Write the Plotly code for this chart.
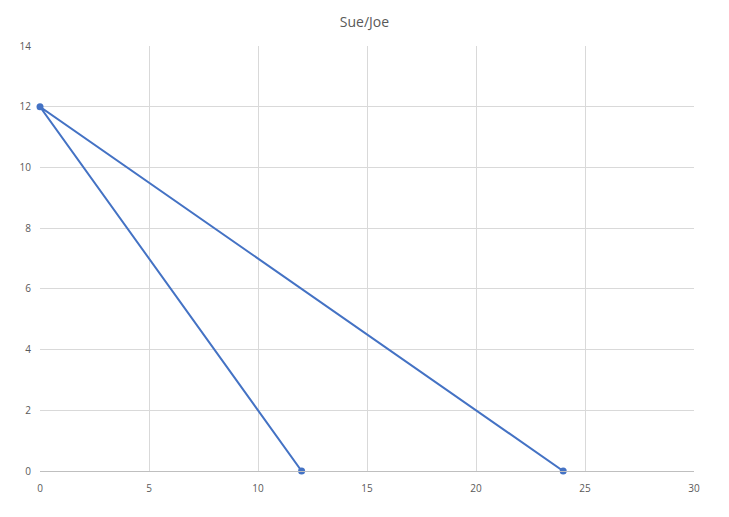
import plotly.graph_objects as go

# Sue/Joe data points
x_vals = [12, 0, 24]
y_vals = [0, 12, 0]

x_ticks = [0, 5, 10, 15, 20, 25, 30]
y_ticks = [0, 2, 4, 6, 8, 10, 12, 14]

fig = go.Figure()

fig.add_trace(
    go.Scatter(
        x=x_vals,
        y=y_vals,
        mode="lines+markers",
        line=dict(color="#4472C4", width=2),
        marker=dict(color="#4472C4", size=7, line=dict(width=0)),
        showlegend=False,
        cliponaxis=False,
    )
)

# page body adds 8px offset, so figure is sized a bit smaller
fig.update_layout(
    width=713,
    height=501,
    paper_bgcolor="white",
    plot_bgcolor="white",
    margin=dict(l=30, r=27, t=38, b=38),
    title=dict(
        text="Sue/Joe",
        x=0.5,
        xanchor="center",
        y=0.972,
        yanchor="middle",
        font=dict(family="Open Sans, Calibri, sans-serif", size=14, color="#595959"),
    ),
    font=dict(family="Open Sans, Calibri, sans-serif", size=10, color="#595959"),
)

fig.update_xaxes(
    range=[0, 30],
    tickvals=x_ticks,
    showgrid=True,
    gridcolor="#d9d9d9",
    gridwidth=1,
    zeroline=False,
    showline=True,
    linecolor="#bfbfbf",
    ticks="",
    ticklabelstandoff=8,
    tickfont=dict(size=10, color="#595959"),
)

fig.update_yaxes(
    range=[0, 14],
    tickvals=y_ticks,
    showgrid=True,
    gridcolor="#d9d9d9",
    gridwidth=1,
    zeroline=False,
    showline=False,
    ticks="",
    ticklabelstandoff=8,
    tickfont=dict(size=10, color="#595959"),
)

fig.write_html("out.html")
